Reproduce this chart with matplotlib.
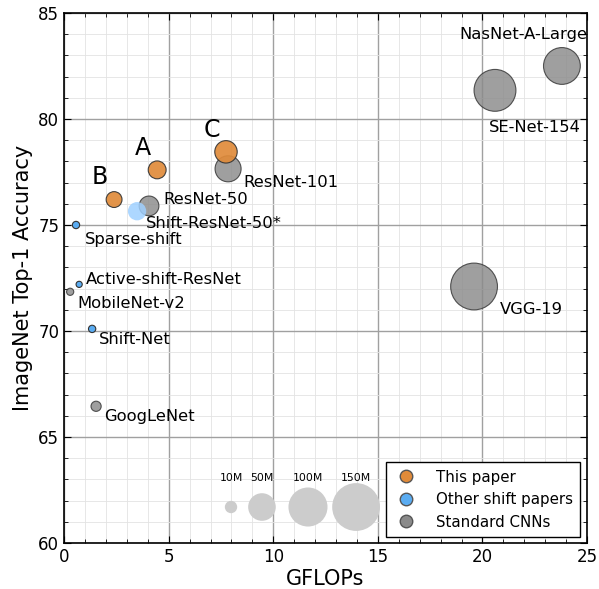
import matplotlib
matplotlib.use("Agg")
import matplotlib.pyplot as plt
from matplotlib.ticker import MultipleLocator
from matplotlib.lines import Line2D

# Data
paper_names = ["A", "B", "C"]
paper_gflops = [4.45, 2.39, 7.74]
paper_acc = [77.6, 76.2, 78.45]
paper_params = [21, 16.5, 33]

shift_names = ["Shift-ResNet-50*", "Sparse-shift", "Active-shift-ResNet", "Shift-Net"]
shift_gflops = [3.49, 0.57, 0.72, 1.34]
shift_acc = [75.65, 75.0, 72.2, 70.1]
shift_params = [22, 3.5, 2.5, 3.5]

std_names = ["ResNet-50", "ResNet-101", "MobileNet-v2", "GoogLeNet", "SE-Net-154", "NasNet-A-Large", "VGG-19"]
std_gflops = [4.06, 7.84, 0.29, 1.53, 20.6, 23.8, 19.6]
std_acc = [75.9, 77.65, 71.85, 66.45, 81.35, 82.5, 72.1]
std_params = [25.6, 44.5, 3.4, 6.8, 115, 88.9, 143.7]

size_labels = ["10M", "50M", "100M", "150M"]
size_values = [10, 50, 100, 150]
size_x = [7.98, 9.46, 11.66, 13.96]

K = 7.9
orange = "#e08b3a"
blue = "#5aacf2"
gray = "#8a8a8a"

fig = plt.figure(figsize=(5.99, 5.89), dpi=100)
ax = fig.add_axes([0.107, 0.078, 0.873, 0.9])
ax.set_xlim(0, 25)
ax.set_ylim(60, 85)

ax.xaxis.set_major_locator(MultipleLocator(5))
ax.yaxis.set_major_locator(MultipleLocator(5))
ax.xaxis.set_minor_locator(MultipleLocator(1))
ax.yaxis.set_minor_locator(MultipleLocator(1))
ax.grid(which="major", color="#a0a0a0", lw=1.0, zorder=0)
ax.grid(which="minor", color="#e3e3e3", lw=0.6, zorder=0)
ax.set_axisbelow(True)
ax.tick_params(which="both", direction="in", top=True, right=True)
ax.tick_params(which="major", length=5, labelsize=12)
ax.tick_params(which="minor", length=3)
for s in ax.spines.values():
    s.set_linewidth(1.2)

# size legend circles
ax.scatter(size_x, [61.7] * 4, s=[K * v for v in size_values], color="#cccccc", zorder=2, edgecolor="none")
for lab, x in zip(size_labels, size_x):
    ax.text(x, 63.05, lab, ha="center", va="center", fontsize=7.8)

ax.scatter(std_gflops, std_acc, s=[K * v for v in std_params], color=gray, edgecolor="#333333",
           linewidth=0.8, alpha=0.82, zorder=3)
ax.scatter(paper_gflops, paper_acc, s=[K * v for v in paper_params], color=orange, edgecolor="#333333",
           linewidth=0.8, alpha=0.92, zorder=3)
ax.scatter(shift_gflops[:1], shift_acc[:1], s=[K * shift_params[0]], color="#9fd0ff", edgecolor="none",
           alpha=0.85, zorder=4)
ax.scatter(shift_gflops[1:], shift_acc[1:], s=[K * v for v in shift_params[1:]], color=blue,
           edgecolor="#333333", linewidth=0.8, zorder=3)

fs = 11.8
label_pos = {
    "ResNet-50": (4.73, 76.2),
    "Shift-ResNet-50*": (3.92, 75.05),
    "ResNet-101": (8.56, 77.0),
    "Sparse-shift": (1.0, 74.3),
    "Active-shift-ResNet": (1.05, 72.45),
    "MobileNet-v2": (0.62, 71.3),
    "Shift-Net": (1.67, 69.6),
    "GoogLeNet": (1.91, 65.95),
    "SE-Net-154": (20.32, 79.6),
    "NasNet-A-Large": (18.88, 84.0),
    "VGG-19": (20.84, 71.0),
}
for name, (x, y) in label_pos.items():
    ax.text(x, y, name, ha="left", va="center", fontsize=fs, zorder=5)

letter_pos = {"A": (3.78, 78.65), "B": (1.72, 77.25), "C": (7.07, 79.5)}
for name, (x, y) in letter_pos.items():
    ax.text(x, y, name, ha="center", va="center", fontsize=17, zorder=5)

ax.set_xlabel("GFLOPs", fontsize=15, labelpad=2)
ax.set_ylabel("ImageNet Top-1 Accuracy", fontsize=15, labelpad=4)

handles = [
    Line2D([], [], marker="o", ls="", markersize=9, markerfacecolor=orange, markeredgecolor="#555555"),
    Line2D([], [], marker="o", ls="", markersize=9, markerfacecolor=blue, markeredgecolor="#555555"),
    Line2D([], [], marker="o", ls="", markersize=9, markerfacecolor=gray, markeredgecolor="#555555"),
]
leg = ax.legend(handles, ["This paper", "Other shift papers", "Standard CNNs"], loc="lower right",
                fontsize=10.8, fancybox=False, edgecolor="black", framealpha=1, borderpad=0.5,
                handlelength=1.6, handletextpad=1.2, borderaxespad=0,
                bbox_to_anchor=(0.9866, 0.0113))
leg.get_frame().set_linewidth(1.0)

fig.savefig("out.png", dpi=100)
